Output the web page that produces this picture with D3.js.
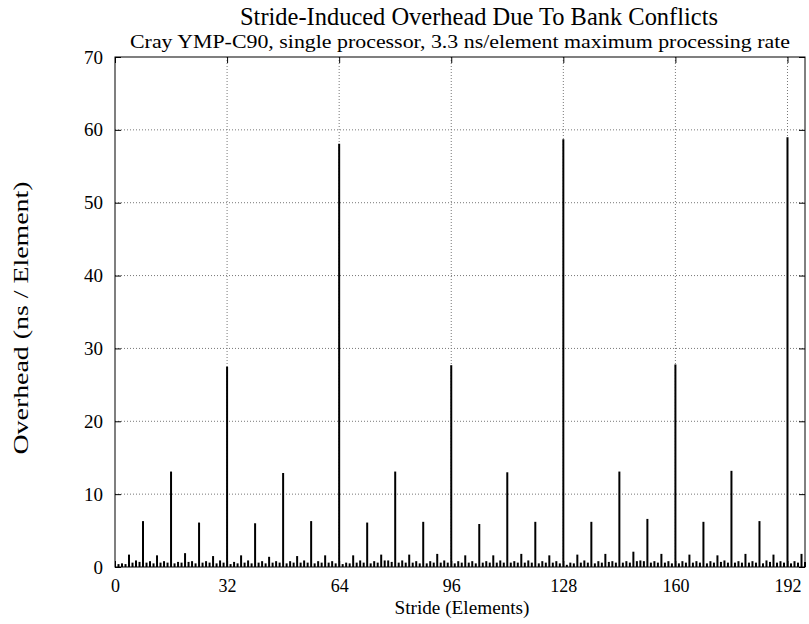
<!DOCTYPE html>
<html><head><meta charset="utf-8">
<script src="https://cdn.jsdelivr.net/npm/d3@7"></script>
<style>body{margin:0;background:#fff}text{font-family:"Liberation Serif","Times New Roman",serif;fill:#000}</style>
</head><body>
<svg id="c" width="809" height="624"></svg>
<script>
const titleText = "Stride-Induced Overhead Due To Bank Conflicts";
const subtitleText = "Cray YMP-C90, single processor, 3.3 ns/element maximum processing rate";
const xLabel = "Stride (Elements)";
const yLabel = "Overhead (ns / Element)";
const xTicks = [0, 32, 64, 96, 128, 160, 192];
const yTicks = [0, 10, 20, 30, 40, 50, 60, 70];
// overhead values for strides 1..197
const overhead = [
 0.4,0.5,0.4,1.7,0.6,0.9,0.7,6.3,
 0.6,0.8,0.5,1.6,0.6,0.8,0.6,13.1,
 0.5,0.7,0.6,1.9,0.7,0.8,0.5,6.1,
 0.6,0.8,0.6,1.5,0.5,0.9,0.6,27.5,
 0.4,0.7,0.5,1.6,0.6,0.9,0.5,6.0,
 0.6,0.8,0.5,1.4,0.6,0.8,0.6,12.9,
 0.5,0.8,0.6,1.5,0.6,0.9,0.6,6.3,
 0.5,0.8,0.6,1.6,0.6,0.8,0.5,58.1,
 0.4,0.6,0.5,1.6,0.6,0.9,0.6,6.1,
 0.5,0.8,0.6,1.7,0.9,0.9,0.7,13.1,
 0.6,0.9,0.6,1.7,0.6,0.8,0.5,6.2,
 0.5,0.8,0.6,1.8,0.6,0.9,0.6,27.7,
 0.5,0.8,0.6,1.6,0.6,0.8,0.5,5.9,
 0.6,0.8,0.6,1.6,0.6,0.9,0.6,13.0,
 0.6,0.8,0.6,1.8,0.6,0.9,0.6,6.2,
 0.5,0.8,0.6,1.6,0.6,0.8,0.5,58.7,
 0.3,0.6,0.5,1.7,0.6,0.9,0.6,6.2,
 0.5,0.8,0.6,1.8,0.7,0.8,0.6,13.1,
 0.6,0.8,0.6,2.1,0.8,0.9,0.8,6.6,
 0.6,0.8,0.6,1.8,0.6,0.8,0.5,27.8,
 0.5,0.8,0.6,1.7,0.6,0.8,0.6,6.2,
 0.5,0.8,0.6,1.6,0.7,0.9,0.6,13.2,
 0.6,0.8,0.6,1.8,0.6,0.8,0.6,6.3,
 0.5,0.9,0.7,1.7,0.6,0.8,0.6,59.0,
 0.5,0.8,0.6,1.8,0.7
];
const strides = overhead.map((_, i) => i + 1);

const svg = d3.select("#c");
const L = 115, R = 805, T = 57, B = 567;
const x = d3.scaleLinear().domain([0, 197]).range([L, R]);
const y = d3.scaleLinear().domain([0, 70]).range([B, T]);

// grid
const g = svg.append("g");
g.selectAll(".gy").data(yTicks.filter(v => v > 0 && v < 70)).enter().append("line")
 .attr("x1", L).attr("x2", R).attr("y1", d => y(d)).attr("y2", d => y(d))
 .attr("stroke", "#777").attr("stroke-width", 1).attr("stroke-dasharray", "1,2");
g.selectAll(".gx").data(xTicks.filter(v => v > 0)).enter().append("line")
 .attr("y1", T).attr("y2", B).attr("x1", d => x(d)).attr("x2", d => x(d))
 .attr("stroke", "#777").attr("stroke-width", 1).attr("stroke-dasharray", "1,2");

// axes (ticks inward)
const ax = svg.append("g").attr("transform", `translate(0,${B})`)
 .call(d3.axisBottom(x).tickValues(xTicks).tickSize(-6).tickPadding(12).tickSizeOuter(0));
const ay = svg.append("g").attr("transform", `translate(${L},0)`)
 .call(d3.axisLeft(y).tickValues(yTicks).tickSize(-6).tickPadding(12).tickSizeOuter(0));
const axT = svg.append("g").attr("transform", `translate(0,${T})`)
 .call(d3.axisTop(x).tickValues(xTicks).tickSize(-6).tickFormat("").tickSizeOuter(0));
const ayR = svg.append("g").attr("transform", `translate(${R},0)`)
 .call(d3.axisRight(y).tickValues(yTicks).tickSize(-6).tickFormat("").tickSizeOuter(0));
[ax, ay, axT, ayR].forEach(a => {
  a.select(".domain").remove();
  a.selectAll("line").attr("stroke", "#000");
  a.selectAll("text").style("font-family", '"Liberation Serif",serif').style("font-size", "19px").attr("fill", "#000");
});
ax.selectAll("text").style("font-size", "18px");

// impulses
svg.append("g").selectAll("line").data(strides).enter().append("line")
 .attr("x1", d => x(d)).attr("x2", d => x(d))
 .attr("y1", y(0)).attr("y2", (d, i) => y(overhead[i]))
 .attr("stroke", "#000").attr("stroke-width", 2);

// frame
svg.append("rect").attr("x", L).attr("y", T).attr("width", R - L).attr("height", B - T)
 .attr("fill", "none").attr("stroke", "#000").attr("stroke-width", 1);

// titles
svg.append("text").attr("x", 479).attr("y", 25).attr("text-anchor", "middle")
 .attr("textLength", 478).attr("lengthAdjust", "spacingAndGlyphs")
 .style("font-size", "25px").text(titleText);
svg.append("text").attr("x", 460).attr("y", 48).attr("text-anchor", "middle")
 .attr("textLength", 660).attr("lengthAdjust", "spacingAndGlyphs")
 .style("font-size", "19px").text(subtitleText);
svg.append("text").attr("x", 462).attr("y", 614).attr("text-anchor", "middle")
 .attr("textLength", 135).attr("lengthAdjust", "spacingAndGlyphs")
 .style("font-size", "18px").text(xLabel);
svg.append("text").attr("transform", "translate(28,318) rotate(-90)").attr("text-anchor", "middle")
 .attr("textLength", 273).attr("lengthAdjust", "spacingAndGlyphs")
 .style("font-size", "20px").text(yLabel);
</script>
</body></html>
